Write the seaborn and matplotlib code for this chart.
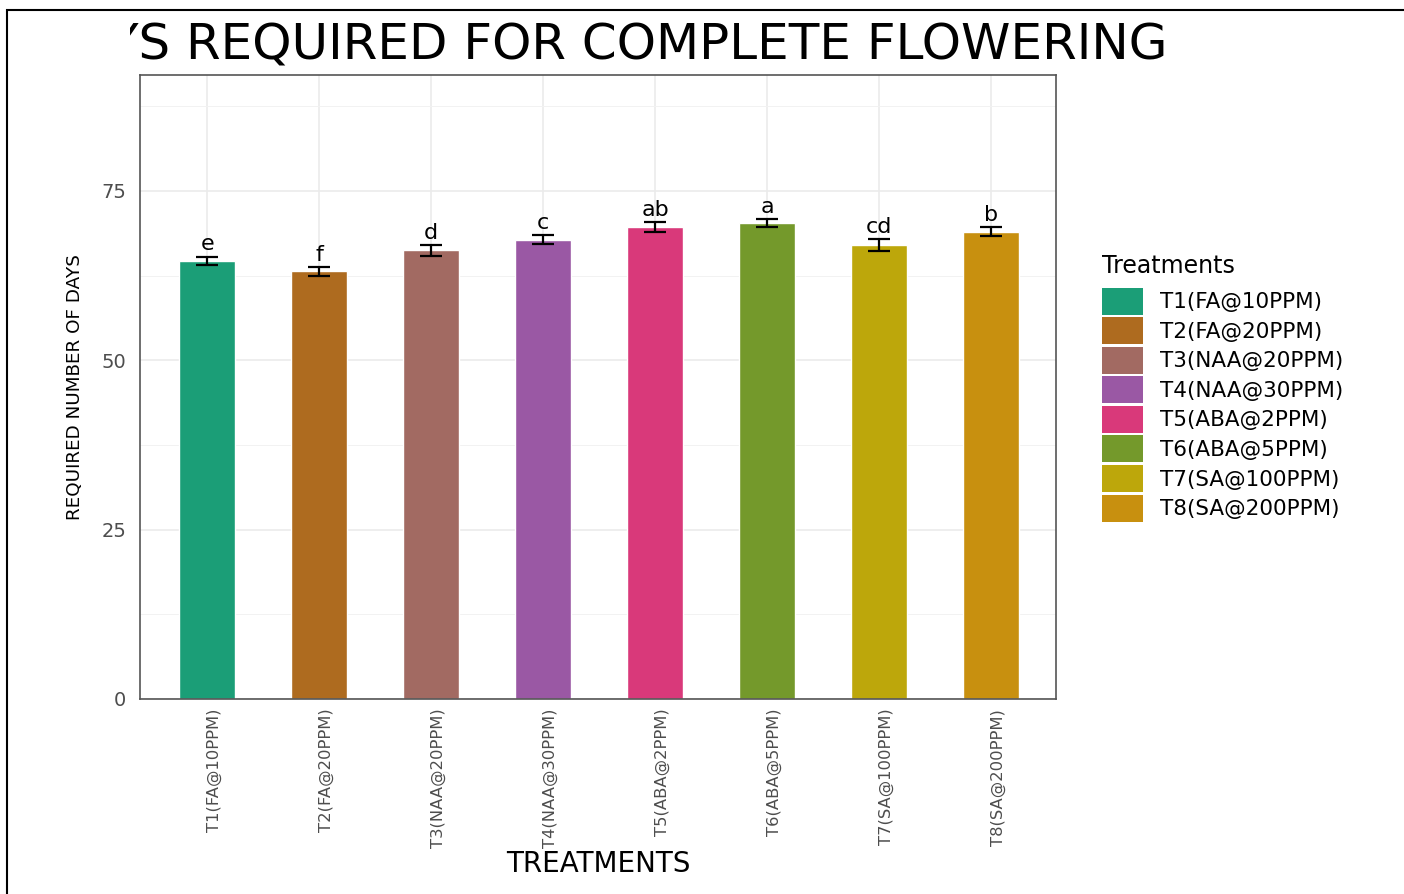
import numpy as np
import pandas as pd
import matplotlib
matplotlib.use("Agg")
import matplotlib.pyplot as plt
import seaborn as sns
from matplotlib.transforms import Bbox, TransformedBbox
from matplotlib.patches import Rectangle, Patch

# ---------------- data ----------------
treatments = ["T1(FA@10PPM)", "T2(FA@20PPM)", "T3(NAA@20PPM)", "T4(NAA@30PPM)",
              "T5(ABA@2PPM)", "T6(ABA@5PPM)", "T7(SA@100PPM)", "T8(SA@200PPM)"]
mean_days = [64.7, 63.1, 66.2, 67.8, 69.7, 70.2, 67.0, 69.0]
se_days = [0.6, 0.6, 0.8, 0.7, 0.75, 0.6, 0.9, 0.6]
letters = ["e", "f", "d", "c", "ab", "a", "cd", "b"]
bar_colors = ["#1B9E77", "#AE6B1F", "#A26A62", "#9A58A4",
              "#D9397A", "#74992B", "#BDA70B", "#C8900F"]
y_ticks = [0, 25, 50, 75]
y_minor = [12.5, 37.5, 62.5, 87.5]
title_text = "DAYS REQUIRED FOR COMPLETE FLOWERING"

# ---------------- style ----------------
sns.set_theme(style="whitegrid")
plt.rcParams["font.family"] = ["DejaVu Sans"]

W, H = 1404, 894
fig = plt.figure(figsize=(W / 100, H / 100), dpi=100)
fig.patch.set_facecolor("white")

ax = fig.add_axes([140 / W, (H - 699) / H, 916 / W, 624 / H])
ax.set_facecolor("white")

df = pd.DataFrame({"Treatment": treatments, "Days": mean_days})
sns.barplot(data=df, x="Treatment", y="Days", hue="Treatment",
            palette=bar_colors, dodge=False, width=0.5, errorbar=None,
            saturation=1, ax=ax, legend=False, zorder=2)

pos = np.arange(len(treatments))
ax.errorbar(pos, mean_days, yerr=se_days, fmt="none", ecolor="black",
            elinewidth=1.6, capsize=8, capthick=1.6, zorder=3)
for i, (m, s, l) in enumerate(zip(mean_days, se_days, letters)):
    ax.annotate(l, (i, m + s), xytext=(0, 1.5), textcoords="offset points",
                ha="center", va="bottom", fontsize=16, color="black", zorder=4)

ax.set_ylim(0, 92.1)
ax.set_xlim(-0.6, 7.58)
ax.set_yticks(y_ticks)
ax.set_yticks(y_minor, minor=True)
ax.set_xticks(pos)
ax.set_xticklabels(treatments, rotation=90, ha="left", va="top",
                   fontsize=11.8, color="#4D4D4D")
ax.tick_params(axis="x", which="major", length=4, width=1.2, color="#333333",
               pad=3)
ax.tick_params(axis="y", which="major", length=4, width=1.2, color="#333333",
               pad=6, labelsize=14, labelcolor="#4D4D4D")
ax.tick_params(axis="y", which="minor", length=0)

ax.grid(which="major", axis="both", color="#EBEBEB", lw=1.2)
ax.grid(which="minor", axis="y", color="#F2F2F2", lw=0.7)
ax.set_axisbelow(True)
for side, sp in ax.spines.items():
    sp.set_visible(True)
    sp.set_color("#555555")
    sp.set_linewidth(1.2)

ax.set_xlabel("TREATMENTS", fontsize=20, color="black")
ax.xaxis.set_label_coords(0.5, -0.242)
ax.set_ylabel("REQUIRED NUMBER OF DAYS", fontsize=13.2, color="black")
ax.yaxis.set_label_coords(-0.061, 0.5)

handles = [Patch(facecolor=c, edgecolor="none") for c in bar_colors]
leg = ax.legend(handles, treatments, loc="upper left",
                bbox_to_anchor=(1102 / W, 1 - 254 / H),
                bbox_transform=fig.transFigure, frameon=False,
                title="Treatments", fontsize=15.5, title_fontsize=17,
                handlelength=1.9, handleheight=1.55, labelspacing=0.12,
                handletextpad=0.8, borderpad=0, borderaxespad=0)
leg.set_alignment("left")
leg._legend_box.sep = 7
leg.get_title().set_color("black")
for txt in leg.get_texts():
    txt.set_color("black")

# ---------------- title (clipped on the left as in the source) ----------------
renderer = fig.canvas.get_renderer()
tfs = 36
probe = fig.text(0, 0, title_text[3:], fontsize=tfs)
w_vis = probe.get_window_extent(renderer).width
probe.remove()
x_end = 653 + w_vis / 2
t = fig.text(x_end / W, 1 - 60 / H, title_text, ha="right", va="baseline",
             fontsize=tfs, color="black")
x_clip = x_end - w_vis - 9
t.set_clip_on(True)
t.set_clip_box(TransformedBbox(Bbox.from_extents(x_clip / W, 0, 1, 1),
                               fig.transFigure))

# figure frame
fig.patches.append(Rectangle((6.5 / W, -0.1), 1.2, (H - 10) / H + 0.1,
                             transform=fig.transFigure, fill=False,
                             edgecolor="black", lw=1.5))

fig.savefig("out.png", dpi=100)
